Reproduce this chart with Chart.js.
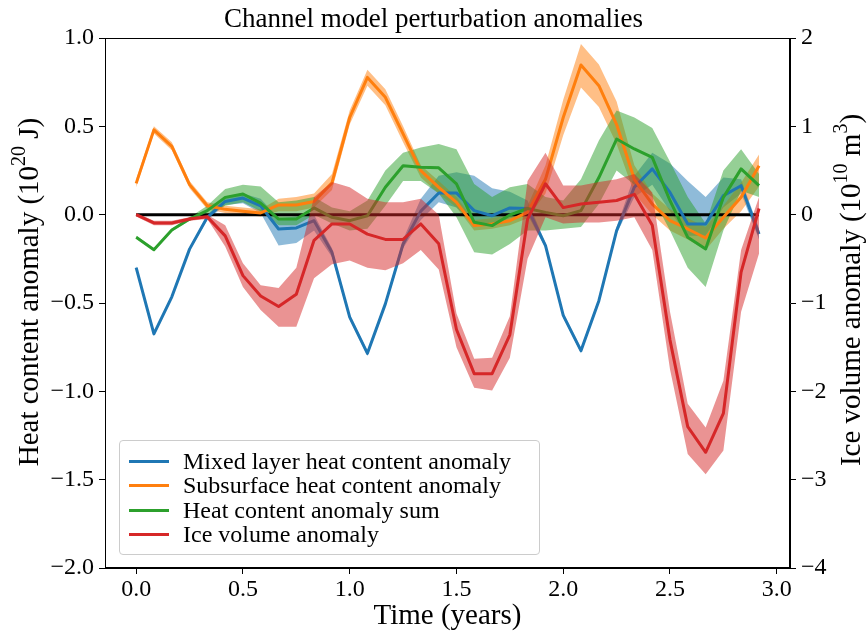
<!DOCTYPE html>
<html>
<head>
<meta charset="utf-8">
<title>Channel model perturbation anomalies</title>
<script src="https://cdn.jsdelivr.net/npm/chart.js@4.4.1/dist/chart.umd.min.js"></script>
<style>
  html, body { margin: 0; padding: 0; background: #fff; }
  #wrap { position: relative; width: 867px; height: 637px; }
  #legend {
    position: absolute; left: 119px; top: 440px; width: 421px; height: 115px;
    box-sizing: border-box; padding: 8px 0 0 9px;
    border: 1px solid #cccccc; border-radius: 4px; background: rgba(255,255,255,0.8);
    font-family: 'Liberation Serif', serif; font-size: 24px; color: #000;
  }
  .leg-row { display: flex; align-items: center; height: 24.5px; }
  .leg-swatch { width: 40px; height: 3px; margin-right: 14px; flex: none; }
</style>
</head>
<body>
<div id="wrap">
  <canvas id="anomaly-chart" width="867" height="637"></canvas>
  <div id="legend"></div>
</div>
<script>
// ── Time axis (years, monthly output) ──
const times = [0.000, 0.083, 0.167, 0.250, 0.333, 0.417, 0.500, 0.583, 0.667, 0.750, 0.833, 0.917,
               1.000, 1.083, 1.167, 1.250, 1.333, 1.417, 1.500, 1.583, 1.667, 1.750, 1.833, 1.917,
               2.000, 2.083, 2.167, 2.250, 2.333, 2.417, 2.500, 2.583, 2.667, 2.750, 2.833, 2.917];

// ── Mixed layer heat content anomaly (1e20 J) ──
const mixedMean  = [-0.300, -0.675, -0.465, -0.195, -0.015, 0.075, 0.094, 0.050, -0.081, -0.075, -0.034, -0.213,
                    -0.580, -0.785, -0.505, -0.166, 0.020, 0.123, 0.123, 0.023, -0.006, 0.038, 0.035, -0.175,
                    -0.570, -0.770, -0.487, -0.090, 0.155, 0.259, 0.126, -0.053, -0.053, 0.108, 0.164, -0.110];
const mixedUpper = [-0.290, -0.665, -0.455, -0.185, 0.000, 0.095, 0.120, 0.090, -0.020, -0.010, 0.000, -0.190,
                    -0.565, -0.770, -0.490, -0.140, 0.090, 0.220, 0.240, 0.220, 0.150, 0.130, 0.080, -0.160,
                    -0.555, -0.755, -0.470, -0.070, 0.220, 0.350, 0.290, 0.190, 0.100, 0.210, 0.200, -0.080];
const mixedLower = [-0.310, -0.685, -0.475, -0.205, -0.030, 0.055, 0.065, 0.010, -0.175, -0.160, -0.090, -0.240,
                    -0.595, -0.800, -0.520, -0.190, -0.030, 0.070, 0.040, -0.050, -0.060, -0.020, 0.000, -0.190,
                    -0.585, -0.785, -0.500, -0.110, 0.100, 0.170, 0.020, -0.120, -0.120, 0.040, 0.120, -0.140];

// ── Subsurface heat content anomaly (1e20 J) ──
const subMean  = [0.177, 0.480, 0.387, 0.170, 0.050, 0.030, 0.020, 0.010, 0.055, 0.055, 0.075, 0.180,
                  0.550, 0.777, 0.664, 0.457, 0.249, 0.155, 0.070, -0.062, -0.053, -0.034, 0.013, 0.200,
                  0.550, 0.847, 0.730, 0.510, 0.200, 0.060, -0.034, -0.081, -0.132, -0.015, 0.098, 0.277];
const subUpper = [0.200, 0.500, 0.410, 0.190, 0.070, 0.050, 0.040, 0.030, 0.090, 0.100, 0.120, 0.230,
                  0.590, 0.820, 0.710, 0.500, 0.280, 0.190, 0.100, -0.030, -0.020, 0.000, 0.050, 0.280,
                  0.650, 0.966, 0.850, 0.640, 0.280, 0.120, 0.030, -0.020, -0.070, 0.050, 0.180, 0.340];
const subLower = [0.155, 0.460, 0.365, 0.150, 0.030, 0.010, 0.000, -0.010, 0.020, 0.020, 0.040, 0.140,
                  0.510, 0.730, 0.620, 0.410, 0.210, 0.120, 0.040, -0.090, -0.080, -0.060, -0.020, 0.120,
                  0.450, 0.720, 0.610, 0.400, 0.120, 0.000, -0.090, -0.140, -0.200, -0.080, 0.020, 0.160];

// ── Heat content anomaly sum (1e20 J) ──
const sumMean  = [-0.128, -0.198, -0.087, -0.025, 0.023, 0.098, 0.117, 0.065, -0.025, -0.025, 0.038, -0.015,
                  -0.034, -0.006, 0.155, 0.277, 0.268, 0.265, 0.174, -0.043, -0.062, -0.002, 0.035, 0.013,
                  -0.006, 0.023, 0.210, 0.428, 0.372, 0.324, 0.079, -0.128, -0.194, 0.098, 0.259, 0.164];
const sumUpper = [-0.120, -0.190, -0.080, -0.015, 0.050, 0.145, 0.170, 0.160, 0.070, 0.080, 0.100, 0.040,
                  0.020, 0.080, 0.250, 0.350, 0.380, 0.400, 0.370, 0.174, 0.100, 0.155, 0.174, 0.100,
                  0.080, 0.200, 0.420, 0.590, 0.550, 0.490, 0.300, 0.100, -0.050, 0.250, 0.370, 0.230];
const sumLower = [-0.135, -0.205, -0.095, -0.035, 0.000, 0.050, 0.070, 0.020, -0.060, -0.060, 0.000, -0.050,
                  -0.090, -0.080, 0.050, 0.190, 0.190, 0.120, -0.015, -0.213, -0.226, -0.166, -0.090, -0.090,
                  -0.080, -0.070, 0.060, 0.250, 0.170, 0.100, -0.090, -0.300, -0.410, -0.090, 0.136, 0.100];

// ── Ice volume anomaly (1e10 m^3, right axis) ──
const iceMean  = [0.000, -0.094, -0.094, -0.050, -0.025, -0.240, -0.690, -0.920, -1.040, -0.900, -0.290, -0.105,
                  -0.105, -0.220, -0.280, -0.280, -0.105, -0.330, -1.300, -1.800, -1.800, -1.360, -0.050, 0.350,
                  0.080, 0.120, 0.140, 0.160, 0.230, -0.120, -1.420, -2.400, -2.690, -2.250, -0.650, 0.070];
const iceUpper = [0.020, -0.070, -0.070, -0.030, 0.000, -0.120, -0.550, -0.800, -0.830, -0.600, 0.200, 0.370,
                  0.310, 0.180, 0.140, 0.140, 0.180, 0.000, -1.120, -1.630, -1.620, -1.150, 0.380, 0.700,
                  0.330, 0.330, 0.370, 0.400, 0.460, 0.250, -1.100, -2.140, -2.410, -1.880, -0.400, 0.200];
const iceLower = [-0.020, -0.120, -0.120, -0.070, -0.050, -0.360, -0.820, -1.080, -1.270, -1.270, -0.720, -0.560,
                  -0.520, -0.600, -0.630, -0.550, -0.400, -0.620, -1.500, -1.960, -1.990, -1.620, -0.500, -0.030,
                  -0.100, -0.090, -0.090, -0.070, -0.030, -0.400, -1.750, -2.710, -2.940, -2.670, -1.100, -0.440];

// ── Axis ticks ──
const xTicks = [0.0, 0.5, 1.0, 1.5, 2.0, 2.5, 3.0];
const heatTicks = [-2.0, -1.5, -1.0, -0.5, 0.0, 0.5, 1.0];
const iceTicks = [-4, -3, -2, -1, 0, 1, 2];

// axis labels with superscript exponents: [text, isSuperscript]
const heatLabel = [['Heat content anomaly (10', false], ['20', true], [' J)', false]];
const iceLabel = [['Ice volume anomaly (10', false], ['10', true], [' m', false], ['3', true], [')', false]];

const COLORS = {
  mixed: '#1f77b4',
  sub: '#ff7f0e',
  sum: '#2ca02c',
  ice: '#d62728',
};
const BAND_ALPHA = '80';

const SERIF = "'Liberation Serif', 'Times New Roman', serif";
const LABEL_SIZE = 29;
const minus = s => s.replace('-', '\u2212');

const pts = ys => times.map((t, i) => ({ x: t, y: ys[i] }));

function lineDataset(label, ys, color, axis, order) {
  return {
    label, data: pts(ys), yAxisID: axis, order,
    borderColor: color, borderWidth: 3, borderJoinStyle: 'round',
    pointRadius: 0, tension: 0, fill: false,
  };
}

// upper edge fills down to the lower edge that follows it
function bandDatasets(upper, lower, color, axis, order) {
  return [
    { data: pts(upper), yAxisID: axis, order, borderWidth: 0, pointRadius: 0,
      backgroundColor: color + BAND_ALPHA, fill: '+1' },
    { data: pts(lower), yAxisID: axis, order, borderWidth: 0, pointRadius: 0, fill: false },
  ];
}

const datasets = [
  ...bandDatasets(mixedUpper, mixedLower, COLORS.mixed, 'yHeat', 90),
  ...bandDatasets(subUpper, subLower, COLORS.sub, 'yHeat', 80),
  ...bandDatasets(sumUpper, sumLower, COLORS.sum, 'yHeat', 70),
  { data: [{ x: times[0], y: 0 }, { x: times[times.length - 1], y: 0 }], yAxisID: 'yHeat', order: 60,
    borderColor: '#000', borderWidth: 3, pointRadius: 0, fill: false },
  lineDataset('Mixed layer heat content anomaly', mixedMean, COLORS.mixed, 'yHeat', 50),
  lineDataset('Subsurface heat content anomaly', subMean, COLORS.sub, 'yHeat', 40),
  lineDataset('Heat content anomaly sum', sumMean, COLORS.sum, 'yHeat', 30),
  ...bandDatasets(iceUpper, iceLower, COLORS.ice, 'yIce', 20),
  lineDataset('Ice volume anomaly', iceMean, COLORS.ice, 'yIce', 10),
];

// box around the plot area (top spine included)
const frame = {
  id: 'frame',
  afterDatasetsDraw(chart) {
    const { ctx, chartArea: a } = chart;
    const l = Math.round(a.left) + 0.5, t = Math.round(a.top) + 0.5;
    const r = Math.round(a.right) - 0.5, b = Math.round(a.bottom) - 0.5;
    ctx.save();
    ctx.strokeStyle = '#000';
    ctx.lineWidth = 1;
    ctx.strokeRect(l, t, r - l, b - t);
    ctx.restore();
  }
};

// rotated y-axis labels, drawn piece by piece so the exponents sit raised
function drawRotatedLabel(ctx, parts, cx, cy) {
  const mainFont = `${LABEL_SIZE}px ${SERIF}`;
  const supFont = `${Math.round(LABEL_SIZE * 0.7)}px ${SERIF}`;
  const widths = parts.map(([text, sup]) => {
    ctx.font = sup ? supFont : mainFont;
    return ctx.measureText(text).width;
  });
  const total = widths.reduce((a, b) => a + b, 0);
  ctx.save();
  ctx.translate(cx, cy);
  ctx.rotate(-Math.PI / 2);
  ctx.fillStyle = '#000';
  ctx.textBaseline = 'alphabetic';
  let x = -total / 2;
  parts.forEach(([text, sup], i) => {
    ctx.font = sup ? supFont : mainFont;
    ctx.fillText(text, x, sup ? LABEL_SIZE * 0.33 - LABEL_SIZE * 0.42 : LABEL_SIZE * 0.33);
    x += widths[i];
  });
  ctx.restore();
}

const axisLabels = {
  id: 'axisLabels',
  afterDraw(chart) {
    drawRotatedLabel(chart.ctx, heatLabel, 28, 292);
    drawRotatedLabel(chart.ctx, iceLabel, 850, 290);
  }
};

const tickGrid = { drawOnChartArea: false, drawTicks: true, tickLength: 6, color: '#000' };
const tickFont = { family: SERIF, size: 24 };

new Chart(document.getElementById('anomaly-chart'), {
  type: 'line',
  data: { datasets },
  options: {
    responsive: false,
    animation: false,
    events: [],
    layout: { padding: 0 },
    plugins: {
      legend: { display: false },
      tooltip: { enabled: false },
      title: {
        display: true,
        text: 'Channel model perturbation anomalies',
        color: '#000',
        font: { family: SERIF, size: 27, weight: 'normal', lineHeight: 1.2 },
        padding: { top: 4, bottom: 1.6 },
      },
    },
    scales: {
      x: {
        type: 'linear', position: 'bottom', min: -0.146, max: 3.062,
        afterBuildTicks: s => { s.ticks = xTicks.map(v => ({ value: v })); },
        afterFit: s => { s.height = 69; },
        ticks: { color: '#000', font: tickFont, padding: 1, callback: v => v.toFixed(1) },
        grid: tickGrid,
        border: { display: true, color: '#000', width: 1 },
        title: { display: true, text: 'Time (years)', color: '#000', font: { family: SERIF, size: LABEL_SIZE },
                 padding: { top: 0, bottom: 3 } },
      },
      yHeat: {
        type: 'linear', position: 'left', min: -2, max: 1,
        afterBuildTicks: s => { s.ticks = heatTicks.map(v => ({ value: v })); },
        afterFit: s => { s.width = 105; },
        ticks: { color: '#000', font: tickFont, padding: 5, callback: v => minus(v.toFixed(1)) },
        grid: tickGrid,
        border: { display: true, color: '#000', width: 1 },
      },
      yIce: {
        type: 'linear', position: 'right', min: -4, max: 2,
        afterBuildTicks: s => { s.ticks = iceTicks.map(v => ({ value: v })); },
        afterFit: s => { s.width = 77; },
        ticks: { color: '#000', font: tickFont, padding: 5, callback: v => minus(String(v)) },
        grid: tickGrid,
        border: { display: true, color: '#000', width: 1 },
      },
    },
  },
  plugins: [frame, axisLabels],
});

// ── Legend (line series only) ──
const legendItems = [
  ['Mixed layer heat content anomaly', COLORS.mixed],
  ['Subsurface heat content anomaly', COLORS.sub],
  ['Heat content anomaly sum', COLORS.sum],
  ['Ice volume anomaly', COLORS.ice],
];
document.getElementById('legend').innerHTML = legendItems.map(([name, color]) =>
  `<div class="leg-row"><span class="leg-swatch" style="background:${color}"></span><span>${name}</span></div>`
).join('');
</script>
</body>
</html>
